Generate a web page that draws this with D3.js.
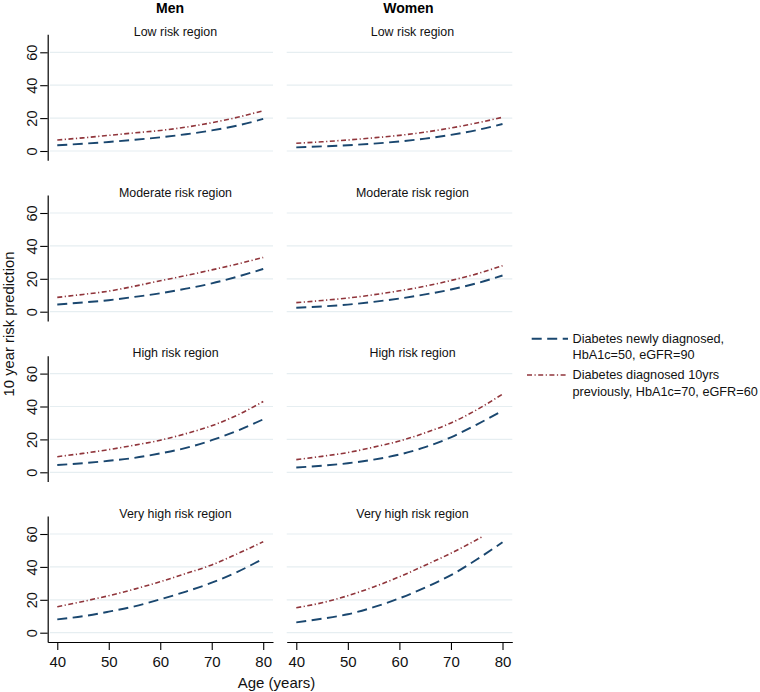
<!DOCTYPE html>
<html>
<head>
<meta charset="utf-8">
<script src="https://cdn.jsdelivr.net/npm/d3@7"></script>
<style>
  html, body { margin: 0; padding: 0; background: #fff; }
  svg { display: block; font-family: Arial, "Liberation Sans", Helvetica, sans-serif; }
</style>
</head>
<body>
<svg id="chart" width="760" height="692"></svg>
<script>
// ---------- data ----------
const ages = [40, 45, 50, 55, 60, 65, 70, 75, 80];
const agesTruncated = [40, 45, 50, 55, 60, 65, 70, 75, 76.3];
const sexes = ["Men", "Women"];
const regions = ["Low risk region", "Moderate risk region", "High risk region", "Very high risk region"];
const xTicks = [40, 50, 60, 70, 80];
const yTicks = [0, 20, 40, 60];
const legendLabels = [
  ["Diabetes newly diagnosed,", "HbA1c=50, eGFR=90"],
  ["Diabetes diagnosed 10yrs", "previously, HbA1c=70, eGFR=60"]
];
const yTitle = "10 year risk prediction";
const xTitle = "Age (years)";

// Men, newly diagnosed (dashed), by region
const menNew = [
  [3.5, 4.4, 5.5, 6.8, 8.3, 10.2, 12.5, 15.5, 19.5],
  [4.4, 5.6, 7.0, 9.0, 11.2, 14.0, 17.2, 21.3, 26.0],
  [4.4, 5.5, 7.0, 8.8, 11.5, 14.8, 19.5, 25.3, 32.2],
  [8.1, 10.0, 12.8, 16.0, 20.3, 25.0, 30.4, 37.0, 45.0]
];
// Men, diagnosed 10 yrs previously (dash-dot)
const menPrev = [
  [6.7, 8.0, 9.5, 11.0, 12.5, 14.5, 17.2, 20.5, 24.5],
  [8.7, 10.5, 12.5, 15.5, 18.8, 22.0, 25.4, 29.0, 33.0],
  [9.5, 11.5, 13.8, 16.5, 19.5, 23.5, 28.3, 34.8, 43.0],
  [15.8, 19.0, 22.5, 26.5, 31.0, 36.0, 41.2, 48.0, 55.3]
];
// Women, newly diagnosed (dashed)
const womenNew = [
  [2.2, 2.8, 3.5, 4.5, 5.8, 7.5, 9.8, 12.7, 16.4],
  [2.4, 3.2, 4.3, 6.0, 8.0, 10.5, 13.5, 17.3, 22.0],
  [2.9, 4.0, 5.5, 7.7, 10.8, 15.3, 21.3, 29.0, 37.4],
  [6.3, 8.5, 11.2, 15.5, 20.9, 27.5, 35.0, 44.5, 55.0]
];
// Women, diagnosed 10 yrs previously (dash-dot); last region stops near 60
const womenPrev = [
  [4.7, 5.6, 6.7, 8.0, 9.5, 11.5, 14.0, 17.0, 20.5],
  [5.5, 6.8, 8.3, 10.3, 12.7, 15.5, 19.0, 23.0, 28.0],
  [7.7, 9.7, 12.0, 15.3, 19.0, 24.0, 30.0, 38.0, 47.5],
  [15.2, 18.2, 22.5, 27.8, 34.0, 41.0, 48.3, 56.5, 58.8]
];

// ---------- layout ----------
const svg = d3.select("#chart");
const colNew = "#1a476f", colPrev = "#90353b", gridCol = "#e6eef1";
const font = "Arial, 'Liberation Sans', Helvetica, sans-serif";

const colRange = [[47.7, 273], [286.7, 512.3]];
const rowZero = [151, 311.7, 472.3, 632.7];
const xDomain = [38.14, 81.9];
const yDomain = [-5.65, 70.9];
const pxPerUnit = 98.7 / 60;

const seriesData = [[menNew, menPrev], [womenNew, womenPrev]];

// column titles
const titleX = [170, 408.5];
sexes.forEach((s, c) => {
  svg.append("text").attr("x", titleX[c]).attr("y", 8).attr("dy", "0.35em")
    .attr("text-anchor", "middle").attr("font-weight", "bold").attr("font-size", 14)
    .text(s);
});

const subX = [175.5, 412.5];

for (let c = 0; c < 2; c++) {
  for (let r = 0; r < 4; r++) {
    const zero = rowZero[r];
    const x = d3.scaleLinear().domain(xDomain).range(colRange[c]);
    const y = d3.scaleLinear().domain(yDomain)
      .range([zero - yDomain[0] * pxPerUnit, zero - yDomain[1] * pxPerUnit]);
    const g = svg.append("g");

    // gridlines
    g.selectAll("line.grid").data(yTicks).join("line")
      .attr("x1", c === 0 ? colRange[c][0] + 2.3 : colRange[c][0])
      .attr("x2", colRange[c][1])
      .attr("y1", d => y(d)).attr("y2", d => y(d))
      .attr("stroke", gridCol).attr("stroke-width", 1.2);

    // subtitle
    g.append("text").attr("x", subX[c]).attr("y", zero - 119.5).attr("dy", "0.35em")
      .attr("text-anchor", "middle").attr("font-size", 12.4).attr("fill", "#111")
      .text(regions[r]);

    // y axis (left column only)
    if (c === 0) {
      const ya = g.append("g").attr("transform", `translate(${colRange[0][0]},0)`)
        .call(d3.axisLeft(y).tickValues(yTicks).tickSize(7.5).tickSizeOuter(0).tickFormat(d3.format("d")));
      ya.select(".domain").attr("stroke", "#000").attr("stroke-width", 1.2);
      ya.selectAll(".tick line").attr("stroke", "#000").attr("stroke-width", 1.1);
      ya.selectAll(".tick text")
        .attr("font-family", font).attr("font-size", 14.5).attr("fill", "#111")
        .attr("x", null).attr("dy", null)
        .attr("transform", "translate(-15.5,0) rotate(-90)")
        .attr("text-anchor", "middle").attr("dominant-baseline", "central");
    }

    // x axis (bottom row only)
    if (r === 3) {
      const xa = g.append("g").attr("transform", `translate(0,${y(yDomain[0])})`)
        .call(d3.axisBottom(x).tickValues(xTicks).tickSize(8).tickSizeOuter(0).tickFormat(d3.format("d")));
      xa.select(".domain").attr("stroke", "#000").attr("stroke-width", 1.2);
      xa.selectAll(".tick line").attr("stroke", "#000").attr("stroke-width", 1.1);
      xa.selectAll(".tick text")
        .attr("font-family", font).attr("font-size", 15).attr("fill", "#111")
        .attr("y", 19.5).attr("dy", "0.35em");
    }

    // series
    const [newArr, prevArr] = seriesData[c];
    const line = d3.line().x(d => x(d[0])).y(d => y(d[1])).curve(d3.curveMonotoneX);
    const agesPrev = (c === 1 && r === 3) ? agesTruncated : ages;
    g.append("path").datum(ages.map((a, i) => [a, newArr[r][i]]))
      .attr("d", line).attr("fill", "none").attr("stroke", colNew)
      .attr("stroke-width", 1.9).attr("stroke-dasharray", "10,5.5");
    g.append("path").datum(agesPrev.map((a, i) => [a, prevArr[r][i]]))
      .attr("d", line).attr("fill", "none").attr("stroke", colPrev)
      .attr("stroke-width", 1.6).attr("stroke-dasharray", "5,2.5,1.2,2.5");
  }
}

// y axis title
svg.append("text").attr("transform", "translate(9,324) rotate(-90)")
  .attr("text-anchor", "middle").attr("dominant-baseline", "central")
  .attr("font-size", 14.8).attr("fill", "#111").text(yTitle);

// x axis title
svg.append("text").attr("x", 276.5).attr("y", 683).attr("dy", "0.35em")
  .attr("text-anchor", "middle").attr("font-size", 15).attr("fill", "#111").text(xTitle);

// legend
const legY = [338.7, 375];
const legStyles = [
  { color: colNew, dash: "10,5.5", w: 1.9, x1: 531.7 },
  { color: colPrev, dash: "5,2.5,1.2,2.5", w: 1.6, x1: 527 }
];
legendLabels.forEach((lines, i) => {
  const st = legStyles[i];
  svg.append("line").attr("x1", st.x1).attr("x2", 568).attr("y1", legY[i]).attr("y2", legY[i])
    .attr("stroke", st.color).attr("stroke-width", st.w).attr("stroke-dasharray", st.dash);
  lines.forEach((t, j) => {
    svg.append("text").attr("x", 572.5).attr("y", legY[i] + j * 16.3).attr("dy", "0.35em")
      .attr("font-size", 12.7).attr("fill", "#111").text(t);
  });
});
</script>
</body>
</html>
